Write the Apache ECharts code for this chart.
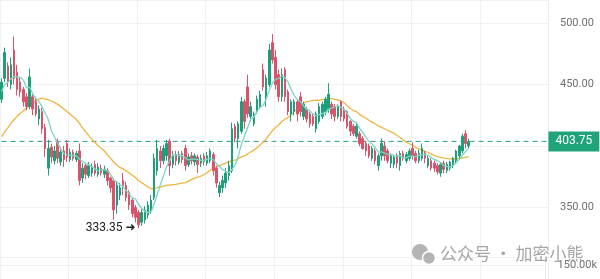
<!DOCTYPE html>
<html><head><meta charset="utf-8">
<script src="https://cdn.jsdelivr.net/npm/echarts@6/dist/echarts.min.js"></script>
<style>html,body{margin:0;padding:0;background:#fff}#c{width:600px;height:279px}</style>
</head><body><div id="c"></div>
<script>
// hidden history (only used to warm up the moving averages)
const warmCloses = [370,375,372,378,380,376,382,385,383,388,385,390,392,395,410,418,415,425,430,436,440,446,442,448,446];
// visible candles: [open, close, low, high]
const candles = [
[438,452,435,455],[455,476,452,480],[465,452,448,468],[450,466,446,472],[478,455,450,489],
[460,446,441,466],[452,444,440,456],[446,436,432,448],[440,432,429,443],[432,456,430,463],
[440,430,425,442],[436,426,424,440],[422,430,417,433],[428,414,410,431],[415,398,391,418],
[382,398,376,405],[399,391,386,402],[388,396,385,400],[403,390,386,406],[387,395,384,399],
[396,389,383,400],[402,391,387,405],[389,395,387,398],[395,390,388,397],[389,394,387,396],
[396,372,368,402],[374,382,370,386],[384,377,373,386],[376,384,374,387],[378,383,375,386],
[385,378,376,388],[377,383,375,386],[382,378,376,385],[377,381,374,384],[380,372,368,382],
[374,366,362,375],[372,348,340,374],[352,368,345,371],[360,366,356,370],[372,368,360,378],
[368,358,355,371],[362,352,348,364],[356,345,342,358],[350,342,338,352],[346,336,333.35,348],
[338,346,335,349],[340,348,337,351],[344,352,341,355],[348,356,345,360],[358,390,356,394],
[380,398,376,405],[396,388,382,400],[388,398,385,401],[392,402,388,405],[404,384,376,406],
[385,392,382,396],[393,388,384,396],[387,393,385,396],[394,389,386,396],[398,384,380,401],
[385,391,383,394],[392,388,385,395],[387,392,384,394],[391,385,378,393],[386,390,383,393],
[392,387,384,394],[386,392,384,395],[388,396,386,398],[393,380,376,395],[382,370,366,384],
[362,368,358.5,371],[366,372,362,376],[370,378,366,382],[376,384,372,388],[380,414,378,419],
[416,406,403,418],[406,418,398,420],[412,436,410,440],[436,420,414,438],[448,426,423,458],
[424,432,420,436],[418,426,416,428],[428,438,426,441],[432,442,430,445],[462,448,445,467],
[440,455,432,458],[450,478,448,483],[484,470,467,491],[472,450,446,478],[458,440,436,462],
[440,458,436,463],[462,440,436,464],[444,428,425,446],[426,436,420,438],[428,436,425,438],
[436,426,420,438],[440,428,424,444],[424,434,421,436],[430,422,419,432],[426,418,415,428],
[424,418,416,426],[414,426,411,428],[420,432,418,435],[424,434,422,436],[428,438,425,440],
[430,442,427,451],[434,426,422,436],[432,424,420,434],[424,432,422,434],[436,424,420,437],
[430,422,420,432],[428,416,414,429],[420,412,408,421],[416,410,408,418],[408,416,406,419],
[410,402,400,412],[406,398,397,408],[402,396,392,404],[400,392,390,402],[390,398,388,400],
[396,388,385,398],[384,392,380,394],[392,402,388,406],[400,392,388,404],[396,388,386,398],
[386,392,382,394],[385,391,382,393],[392,386,382,394],[384,394,380,396],[394,390,388,396],
[388,393,386,395],[390,396,388,398],[398,392,389,403],[394,388,386,396],[388,394,386,397],
[390,398,388,402],[394,390,386,396],[384,390,382,392],[388,382,380,390],[386,382,379,388],
[384,379,377,386],[378,385,375,387],[386,381,378,388],[380,385,378,387],[382,387,380,388],
[384,390,382,391],[388,396,386,397],[392,400,389,401],[396,408,394,410],[410,402,398,413],
[400,403.75,398,406]
];
const lastPrice = 403.75;
const slotCount = 176;
const volumeTick = 150000;
const maShort = 7, maLong = 25;

const slots = Array.from({length: slotCount}, (_, i) => String(i));
const allCloses = warmCloses.concat(candles.map(c => c[1]));
function movingAverage(n) {
  const out = [];
  for (let i = warmCloses.length; i < allCloses.length; i++) {
    let s = 0;
    for (let k = i - n + 1; k <= i; k++) s += allCloses[k];
    out.push(+(s / n).toFixed(2));
  }
  return out;
}
let lowIdx = 0;
candles.forEach((c, i) => { if (c[2] < candles[lowIdx][2]) lowIdx = i; });
const lowVal = candles[lowIdx][2];
const lastLine = slots.map(() => lastPrice);

const axisFont = {color: '#707070', fontSize: 11, fontFamily: 'Roboto, "Noto Sans", sans-serif'};
const gridColor = '#f0f1f3';
const upColor = '#1c9f7b', downColor = '#d9546a';
const lastColor = '#14a07a';

const chart = echarts.init(document.getElementById('c'), null, {renderer: 'canvas'});
chart.setOption({
  animation: false,
  backgroundColor: '#fff',
  grid: [
    {left: 0, right: 52, top: 0, bottom: 22},
    {left: -55.5, right: 52, top: 0, bottom: 0},
    {left: 0, right: 52, top: 257, bottom: 0}
  ],
  xAxis: [
    {type: 'category', gridIndex: 0, data: slots, boundaryGap: true,
     axisLine: {show: false}, axisTick: {show: false}, axisLabel: {show: false}, splitLine: {show: false}},
    {type: 'value', gridIndex: 1, min: 0, max: 603.5, interval: 75.5,
     axisLine: {show: false}, axisTick: {show: false}, axisLabel: {show: false},
     splitLine: {show: true, lineStyle: {color: gridColor, width: 1}}},
    {type: 'category', gridIndex: 2, data: slots, show: false}
  ],
  yAxis: [
    {type: 'value', gridIndex: 0, position: 'right', min: 309.76, max: 518.7, splitNumber: 4,
     axisLine: {show: true, lineStyle: {color: '#ececec'}}, axisTick: {show: false},
     axisLabel: Object.assign({margin: 12, showMinLabel: false, showMaxLabel: false,
       formatter: v => v.toFixed(2)}, axisFont),
     splitLine: {show: true, lineStyle: {color: gridColor, width: 1}}},
    {type: 'value', gridIndex: 1, show: false, min: 0, max: 1},
    {type: 'value', gridIndex: 2, position: 'right', min: 0, max: 235700, interval: volumeTick,
     axisLine: {show: true, lineStyle: {color: '#ececec'}}, axisTick: {show: false},
     axisLabel: Object.assign({margin: 12, showMinLabel: false, showMaxLabel: false,
       formatter: v => (v / 1000).toFixed(2) + 'k'}, axisFont),
     splitLine: {show: true, lineStyle: {color: gridColor, width: 1}}}
  ],
  series: [
    {
      type: 'line', name: 'last', xAxisIndex: 0, yAxisIndex: 0, data: lastLine, silent: true,
      showSymbol: false, z: 2, clip: false,
      lineStyle: {color: lastColor, width: 1, type: [5, 4]},
      endLabel: {show: true, distance: 2, formatter: () => lastPrice.toFixed(2),
        backgroundColor: '#1fa37a', color: '#fff', padding: [4, 7], fontSize: 12,
        fontFamily: 'Roboto, "Noto Sans", sans-serif'}
    },
    {
      type: 'line', name: 'MA' + maLong, xAxisIndex: 0, yAxisIndex: 0,
      data: movingAverage(maLong), showSymbol: false, silent: true,
      lineStyle: {color: '#efb53c', width: 1.3}, z: 3
    },
    {
      type: 'candlestick', xAxisIndex: 0, yAxisIndex: 0, data: candles, barWidth: 2,
      itemStyle: {color: upColor, color0: downColor, borderColor: upColor, borderColor0: downColor, borderWidth: 1},
      z: 4,
      markPoint: {
        symbol: 'circle', symbolSize: 0, silent: true,
        label: {show: true, position: 'left', distance: 3, formatter: lowVal.toFixed(2) + ' ➜',
          color: '#222', fontSize: 12, fontFamily: 'Roboto, "DejaVu Sans", sans-serif'},
        data: [{coord: [lowIdx, lowVal], value: lowVal}]
      }
    },
    {
      type: 'line', name: 'MA' + maShort, xAxisIndex: 0, yAxisIndex: 0,
      data: movingAverage(maShort), showSymbol: false, silent: true,
      lineStyle: {color: '#7ad6c5', width: 1.3}, z: 5
    }
  ],
  graphic: [
    {type: 'circle', shape: {cx: 420, cy: 252, r: 8}, style: {fill: '#b4b4b4'}, z: 100},
    {type: 'circle', shape: {cx: 429, cy: 258, r: 6.5}, style: {fill: '#b4b4b4', stroke: '#fff', lineWidth: 1.5}, z: 101},
    {type: 'text', left: 440, top: 245, z: 100,
     style: {text: '公众号 · 加密小熊', fill: '#a6a6a6', fontSize: 17,
       fontFamily: '"Noto Sans CJK SC", sans-serif'}}
  ]
});
</script>
</body></html>
